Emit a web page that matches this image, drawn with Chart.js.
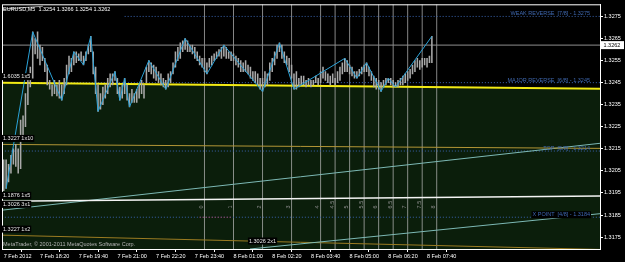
<!DOCTYPE html>
<html>
<head>
<meta charset="utf-8">
<script src="https://cdn.jsdelivr.net/npm/chart.js@4/dist/chart.umd.min.js"></script>
<style>
  html, body { margin: 0; padding: 0; background: #000; }
  #wrap { width: 625px; height: 262px; }
</style>
</head>
<body>
<div id="wrap"><canvas id="chart-eurusd"></canvas></div>
<script>
// EURUSD M5 bars, 7 Feb 2012 17:05 .. 8 Feb 2012 07:50 (bar index = array position)
const barHigh = [
  1.3210, 1.3210, 1.3208, 1.3212, 1.3215, 1.3217, 1.3215, 1.3228, 1.3230, 1.3240,
  1.3246, 1.3252, 1.3268, 1.3265, 1.3268, 1.3262, 1.3261, 1.3256, 1.3253, 1.3246,
  1.3244, 1.3246, 1.3244, 1.3246, 1.3244, 1.3247, 1.3253, 1.3257, 1.3256, 1.3259,
  1.3259, 1.3258, 1.3259, 1.3257, 1.3259, 1.3262, 1.3266, 1.3259, 1.3252, 1.3244,
  1.3240, 1.3243, 1.3244, 1.3247, 1.3249, 1.3249, 1.3250, 1.3247, 1.3243, 1.3244,
  1.3247, 1.3244, 1.3240, 1.3242, 1.3240, 1.3242, 1.3244, 1.3246, 1.3244, 1.3252,
  1.3255, 1.3254, 1.3253, 1.3252, 1.3250, 1.3249, 1.3247, 1.3246, 1.3249, 1.3250,
  1.3254, 1.3259, 1.3261, 1.3263, 1.3264, 1.3265, 1.3264, 1.3262, 1.3262, 1.3261,
  1.3259, 1.3257, 1.3256, 1.3256, 1.3254, 1.3256, 1.3257, 1.3258, 1.3259, 1.3260,
  1.3261, 1.3262, 1.3261, 1.3259, 1.3259, 1.3258, 1.3257, 1.3256, 1.3255, 1.3254,
  1.3255, 1.3253, 1.3252, 1.3250, 1.3250, 1.3249, 1.3247, 1.3247, 1.3250, 1.3249,
  1.3254, 1.3256, 1.3259, 1.3262, 1.3263, 1.3262, 1.3259, 1.3257, 1.3256, 1.3253,
  1.3249, 1.3250, 1.3247, 1.3248, 1.3248, 1.3246, 1.3247, 1.3246, 1.3246, 1.3248,
  1.3247, 1.3250, 1.3252, 1.3250, 1.3249, 1.3248, 1.3249, 1.3247, 1.3250, 1.3252,
  1.3254, 1.3256, 1.3255, 1.3253, 1.3252, 1.3250, 1.3250, 1.3251, 1.3252, 1.3253,
  1.3254, 1.3252, 1.3250, 1.3248, 1.3247, 1.3246, 1.3245, 1.3246, 1.3247, 1.3247,
  1.3247, 1.3246, 1.3245, 1.3246, 1.3247, 1.3248, 1.3249, 1.3250, 1.3251, 1.3253,
  1.3255, 1.3256, 1.3255, 1.3256, 1.3256, 1.3256, 1.3257, 1.3266
];
const barLow = [
  1.3196, 1.3197, 1.3200, 1.3204, 1.3208, 1.3207, 1.3204, 1.3206, 1.3221, 1.3225,
  1.3235, 1.3243, 1.3247, 1.3258, 1.3256, 1.3253, 1.3255, 1.3250, 1.3244, 1.3242,
  1.3239, 1.3240, 1.3239, 1.3238, 1.3237, 1.3240, 1.3244, 1.3249, 1.3250, 1.3253,
  1.3254, 1.3255, 1.3255, 1.3253, 1.3255, 1.3258, 1.3259, 1.3249, 1.3240, 1.3232,
  1.3233, 1.3235, 1.3238, 1.3240, 1.3243, 1.3244, 1.3246, 1.3240, 1.3237, 1.3238,
  1.3240, 1.3237, 1.3234, 1.3236, 1.3236, 1.3236, 1.3238, 1.3240, 1.3238, 1.3245,
  1.3250, 1.3249, 1.3247, 1.3246, 1.3245, 1.3244, 1.3243, 1.3242, 1.3243, 1.3245,
  1.3249, 1.3252, 1.3255, 1.3256, 1.3259, 1.3260, 1.3259, 1.3259, 1.3258, 1.3256,
  1.3255, 1.3253, 1.3252, 1.3250, 1.3249, 1.3252, 1.3253, 1.3255, 1.3256, 1.3257,
  1.3256, 1.3257, 1.3256, 1.3256, 1.3255, 1.3255, 1.3253, 1.3252, 1.3250, 1.3250,
  1.3250, 1.3249, 1.3247, 1.3246, 1.3245, 1.3244, 1.3242, 1.3241, 1.3243, 1.3244,
  1.3246, 1.3250, 1.3253, 1.3256, 1.3259, 1.3256, 1.3254, 1.3253, 1.3250, 1.3247,
  1.3242, 1.3242, 1.3243, 1.3244, 1.3244, 1.3243, 1.3244, 1.3243, 1.3244, 1.3245,
  1.3244, 1.3245, 1.3247, 1.3246, 1.3245, 1.3244, 1.3245, 1.3244, 1.3245, 1.3246,
  1.3249, 1.3250, 1.3250, 1.3249, 1.3248, 1.3247, 1.3247, 1.3248, 1.3249, 1.3250,
  1.3250, 1.3248, 1.3246, 1.3243, 1.3242, 1.3242, 1.3241, 1.3243, 1.3244, 1.3245,
  1.3244, 1.3243, 1.3243, 1.3243, 1.3244, 1.3244, 1.3245, 1.3246, 1.3247, 1.3249,
  1.3250, 1.3252, 1.3251, 1.3252, 1.3253, 1.3252, 1.3254, 1.3254
];

// ZigZag turning points
const zigzagIdx   = [1, 12, 24, 29, 33, 36, 39, 46, 48, 50, 52, 60, 67, 75, 84, 91, 107, 114, 120, 141, 146, 150, 156, 159, 162, 177];
const zigzagPrice = [1.3197, 1.3268, 1.3237, 1.3259, 1.3253, 1.3266, 1.3232, 1.3250, 1.3237, 1.3247, 1.3234, 1.3255, 1.3242, 1.3265,
                     1.3249, 1.3262, 1.3241, 1.3263, 1.3242, 1.3256, 1.3247, 1.3254, 1.3241, 1.3247, 1.3243, 1.3266];

// time axis
const timeTickIdx = [0, 15, 31, 47, 63, 79, 95, 111, 127, 143, 159, 175];
const timeTickLabels = ['7 Feb 2012', '7 Feb 18:20', '7 Feb 19:40', '7 Feb 21:00', '7 Feb 22:20', '7 Feb 23:40',
                        '8 Feb 01:00', '8 Feb 02:20', '8 Feb 03:40', '8 Feb 05:00', '8 Feb 06:20', '8 Feb 07:40'];
const priceTicks = [1.3175, 1.3185, 1.3195, 1.3205, 1.3215, 1.3225, 1.3235, 1.3245, 1.3255, 1.3265, 1.3275];

// session lines
const vLineIdx = [83, 95, 107, 119, 131, 137, 143, 149, 155, 161, 167, 173, 179];
const vLineText = ['0', '1', '2', '3', '4', '4.5', '5', '5.5', '6', '6.5', '7', '7.5', '8'];

// Murrey Math levels
const murreyLevels = [1.3275, 1.3245, 1.3214, 1.3184];
const murreyText = ['WEAK REVERSE  [7/8] - 1.3275', 'MAJOR REVERSE  [6/8] - 1.3245', 'TOP  [5/8] - 1.3214', 'X POINT  [4/8] - 1.3184'];
const murreyFromIdx = [50, -2, -2, -2];
const murreyRedIdx = [81, 94.4];

// Gann lines: [start index, start price, end index, end price]
const gann1x5Top  = [-1.5, 1.32450, 246.5, 1.32422];
const gann1x10    = [-1.5, 1.32170, 246.5, 1.32152];
const gann1x5Low  = [-1.5, 1.31912, 246.5, 1.31936];
const gann3x1     = [-1.5, 1.31871, 246.5, 1.32175];
const gann2x1     = [101.8, 1.31696, 246.5, 1.31856];
const gann1x2     = [-1.5, 1.31759, 246.5, 1.31694];
const gannTopLeft = [-0.7, 1.32783, 16.2, 1.32796];
const gannText = ['1.6035 1x5', '1.3227 1x10', '1.1876 1x5', '1.3026 3x1', '1.3227 1x2', '1.3026 2x1'];

const titleText = 'EURUSD,M5  1.3254 1.3266 1.3254 1.3262';
const bidPrice = 1.3262;
const copyrightText = 'MetaTrader, \u00A9 2001-2011 MetaQuotes Software Corp.';

const X_MIN = -0.7, X_MAX = 246.5;
const Y_MIN = 1.31696, Y_MAX = 1.32805;
const FONT = '5.5px "Liberation Sans", Arial, sans-serif';

const seg = l => [{ x: l[0], y: l[1] }, { x: l[2], y: l[3] }];

function lineSet(data, color, width, extra) {
    return Object.assign({
        type: 'line',
        data: data,
        borderColor: color,
        borderWidth: width,
        pointRadius: 0,
        fill: false,
        tension: 0,
        spanGaps: false,
    }, extra || {});
}

const vLineData = vLineIdx.flatMap(i => [{ x: i, y: Y_MIN }, { x: i, y: Y_MAX }, { x: i, y: null }]);
const murreyData = murreyLevels.flatMap((p, k) => [{ x: murreyFromIdx[k], y: p }, { x: X_MAX + 2, y: p }, { x: X_MAX + 2, y: null }]);

function drawLabel(ctx, text, x, y, color, bg, align) {
    ctx.font = FONT;
    ctx.textAlign = align || 'left';
    ctx.textBaseline = 'middle';
    if (bg) {
        const w = ctx.measureText(text).width;
        const x0 = align === 'right' ? x - w : x;
        ctx.fillStyle = bg;
        ctx.fillRect(x0 - 1, y - 3.5, w + 2, 7);
    }
    ctx.fillStyle = color;
    ctx.fillText(text, x, y);
}

const overlay = {
    id: 'overlay',
    afterDraw(chart) {
        const ctx = chart.ctx;
        const a = chart.chartArea;
        const xs = chart.scales.x, ys = chart.scales.y;
        ctx.save();

        // frame
        ctx.strokeStyle = '#ffffff';
        ctx.lineWidth = 1;
        ctx.strokeRect(a.left + 0.5, a.top + 0.5, a.right - a.left, a.bottom - a.top);

        ctx.beginPath();
        ctx.rect(a.left, a.top, a.right - a.left, a.bottom - a.top);
        ctx.clip();

        drawLabel(ctx, titleText, a.left + 1, a.top + 5, '#ffffff');

        murreyText.forEach((t, k) => {
            const y = ys.getPixelForValue(murreyLevels[k]) - 2.5;
            drawLabel(ctx, t, a.right - 10, y, '#3f68b0', k === 3 ? '#000000' : null, 'right');
        });

        const gannLines = [gann1x5Top, gann1x10, gann1x5Low, gann3x1, gann1x2, gann2x1];
        gannText.forEach((t, k) => {
            const l = gannLines[k];
            const x = Math.max(xs.getPixelForValue(l[0]), a.left) + 1;
            const y = ys.getPixelForValue(l[1]) - (k === 5 ? 8 : 6);
            drawLabel(ctx, t, k === 5 ? x - 2 : x, y, '#e8e8e8', '#000000');
        });

        drawLabel(ctx, copyrightText, a.left + 1, a.bottom - 5, '#b4b4b4');

        // names of the session lines, written upward
        ctx.fillStyle = '#8c8c8c';
        vLineText.forEach((t, k) => {
            const x = xs.getPixelForValue(vLineIdx[k]) - 3;
            ctx.save();
            ctx.translate(x, ys.getPixelForValue(1.3188));
            ctx.rotate(-Math.PI / 2);
            ctx.font = FONT;
            ctx.textAlign = 'left';
            ctx.textBaseline = 'middle';
            ctx.fillText(t, 0, 0);
            ctx.restore();
        });
        ctx.restore();

        // bid price box on the price scale
        ctx.save();
        const yb = ys.getPixelForValue(bidPrice);
        ctx.fillStyle = '#ffffff';
        ctx.fillRect(a.right + 1, yb - 4, 23, 8);
        drawLabel(ctx, bidPrice.toFixed(4), a.right + 3.5, yb, '#000000');
        ctx.restore();
    }
};

new Chart(document.getElementById('chart-eurusd'), {
    type: 'line',
    data: {
        datasets: [
            lineSet(zigzagIdx.map((x, k) => ({ x: x, y: zigzagPrice[k] })), '#2aa2d8', 1, { order: 1 }),
            {
                type: 'bar',
                data: barHigh.map((h, i) => ({ x: i, y: [barLow[i], h] })),
                backgroundColor: '#a9a9a9',
                borderWidth: 0,
                barThickness: 0.9,
                grouped: false,
                order: 2,
            },
            lineSet(seg(gann1x5Top), '#f2ea14', 2, { order: 3, fill: 'start', backgroundColor: '#0b1e0b' }),
            lineSet(seg(gann1x10), '#b39636', 1, { order: 4 }),
            lineSet(seg(gann1x5Low), '#f4f4f4', 1.6, { order: 4 }),
            lineSet(seg(gann3x1), '#7db9b5', 1, { order: 4 }),
            lineSet(seg(gann2x1), '#7db9b5', 1, { order: 4 }),
            lineSet(seg(gann1x2), '#9c7c22', 1, { order: 4 }),
            lineSet(seg(gannTopLeft), '#9a9a9a', 1, { order: 4 }),
            lineSet([{ x: X_MIN - 2, y: bidPrice }, { x: X_MAX + 2, y: bidPrice }], '#8e8e8e', 1, { order: 5 }),
            lineSet(murreyData, '#3a64b0', 1, { order: 5, borderDash: [1, 2] }),
            lineSet(murreyRedIdx.map(i => ({ x: i, y: murreyLevels[3] })), '#c04060', 1, { order: 4, borderDash: [1, 2] }),
            lineSet(vLineData, 'rgba(190,190,190,0.7)', 1, { order: 6 }),
        ],
    },
    options: {
        responsive: true,
        maintainAspectRatio: false,
        animation: false,
        devicePixelRatio: 1,
        layout: { padding: { left: 2, top: 1, right: 0, bottom: 0 } },
        plugins: {
            legend: { display: false },
            tooltip: { enabled: false },
            filler: { drawTime: 'beforeDatasetsDraw' },
        },
        scales: {
            x: {
                type: 'linear',
                min: X_MIN,
                max: X_MAX,
                offset: false,
                afterFit: s => { s.height = 13; },
                afterBuildTicks: s => { s.ticks = timeTickIdx.map(v => ({ value: v })); },
                ticks: {
                    color: '#ffffff',
                    font: { size: 5.5, family: '"Liberation Sans", Arial, sans-serif' },
                    align: 'start',
                    autoSkip: false,
                    maxRotation: 0,
                    padding: 1,
                    callback: (v, k) => timeTickLabels[k],
                },
                grid: { drawOnChartArea: false, drawTicks: true, tickLength: 3, color: '#ffffff' },
                border: { display: true, color: '#ffffff' },
            },
            y: {
                type: 'linear',
                position: 'right',
                min: Y_MIN,
                max: Y_MAX,
                afterFit: s => { s.width = 25; },
                afterBuildTicks: s => { s.ticks = priceTicks.map(v => ({ value: v })); },
                ticks: {
                    color: '#ffffff',
                    font: { size: 5.5, family: '"Liberation Sans", Arial, sans-serif' },
                    padding: 1,
                    callback: v => v.toFixed(4),
                },
                grid: { drawOnChartArea: false, drawTicks: true, tickLength: 3, color: '#ffffff' },
                border: { display: true, color: '#ffffff' },
            },
        },
    },
    plugins: [overlay],
});
</script>
</body>
</html>
